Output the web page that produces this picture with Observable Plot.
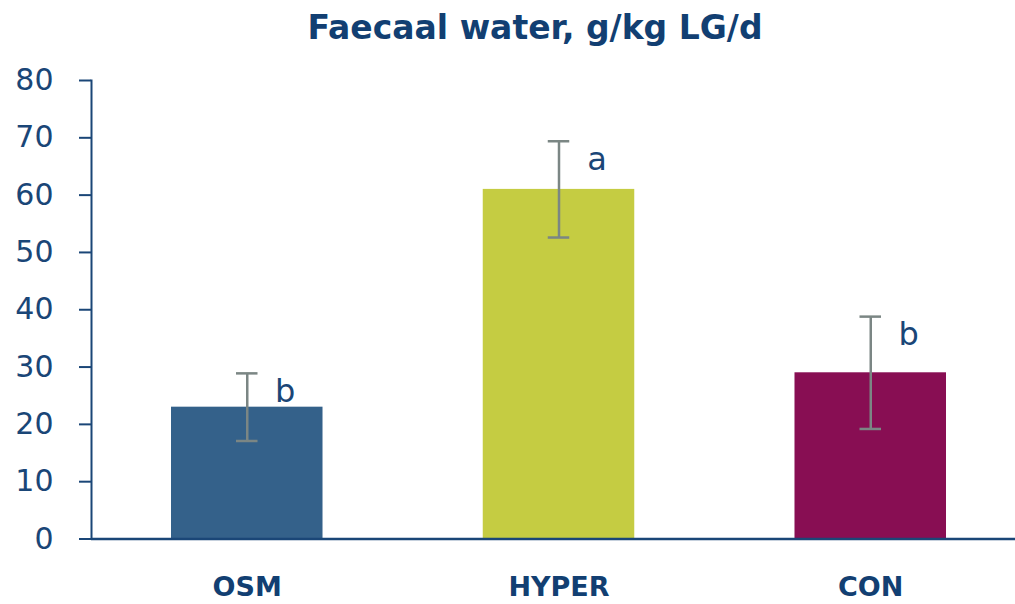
<!DOCTYPE html>
<html>
<head>
<meta charset="utf-8">
<script src="https://cdn.jsdelivr.net/npm/d3@7"></script>
<script src="https://cdn.jsdelivr.net/npm/@observablehq/plot@0.6"></script>
<style>
  body { margin: 0; background: #fff; }
  #title { width: 1015px; height: 56px; line-height: 56px; box-sizing: border-box; padding-left: 55px;
           text-align: center; font-family: "DejaVu Sans", sans-serif; font-weight: bold; font-size: 33px; color: #123f72; }
</style>
</head>
<body>
<div id="title">Faecaal water, g/kg LG/d</div>
<div id="chart"></div>
<script>
const categories = ["OSM", "HYPER", "CON"];
const means = [23, 61, 29];
const errors = [5.9, 8.4, 9.8];
const letters = ["b", "a", "b"];
const barColors = ["#34618a", "#c5cc42", "#880e53"];
const yTicks = [0, 10, 20, 30, 40, 50, 60, 70, 80];

const navy = "#1a4677";
const errColor = "#7b8684";

const data = categories.map((c, i) => ({
  cat: c, mean: means[i], lo: means[i] - errors[i], hi: means[i] + errors[i], letter: letters[i]
}));

const chart = Plot.plot({
  width: 1015,
  height: 548,
  marginTop: 24,
  marginBottom: 65.5,
  marginLeft: 91,
  marginRight: 0,
  style: { fontFamily: "DejaVu Sans, sans-serif", background: "#fff" },
  x: { type: "band", domain: categories, range: [171, 946], paddingInner: 0.514, paddingOuter: 0, round: false },
  y: { domain: [0, 80] },
  color: { domain: categories, range: barColors },
  marks: [
    Plot.barY(data, { x: "cat", y: "mean", fill: "cat" }),
    Plot.ruleX(data, { x: "cat", y1: "lo", y2: "hi", stroke: errColor, strokeWidth: 2.5 }),
    Plot.tickY(data, { x: "cat", y: "lo", stroke: errColor, strokeWidth: 2.5, insetLeft: 65, insetRight: 65 }),
    Plot.tickY(data, { x: "cat", y: "hi", stroke: errColor, strokeWidth: 2.5, insetLeft: 65, insetRight: 65 }),
    Plot.text(data, { x: "cat", y: "hi", text: "letter", dx: 38, dy: 18, fontSize: 32, fill: navy, lineAnchor: "middle" }),
    Plot.ruleY([0], { stroke: navy, strokeWidth: 2.5 }),
    Plot.frame({ anchor: "left", stroke: navy, strokeWidth: 2 }),
    Plot.axisY({ ticks: yTicks, tickSize: 12, tickPadding: 26, fontSize: 30, color: navy, strokeWidth: 2, label: null }),
    Plot.axisX({ tickSize: 0, tickPadding: 38, fontSize: 27, fontWeight: "bold", color: "#123f72", label: null })
  ]
});
document.getElementById("chart").appendChild(chart);
</script>
</body>
</html>
